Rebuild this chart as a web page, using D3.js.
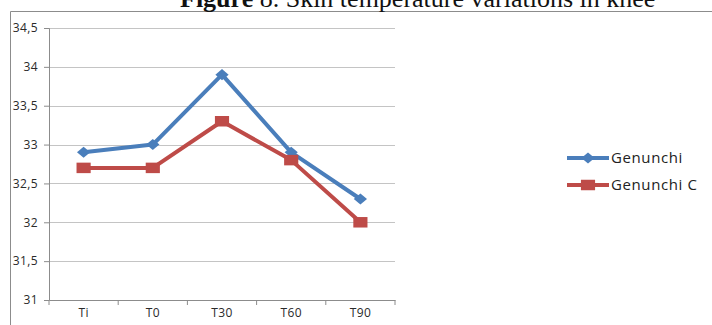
<!DOCTYPE html>
<html>
<head>
<meta charset="utf-8">
<script src="https://cdn.jsdelivr.net/npm/d3@7"></script>
<style>
  body { margin: 0; background: #fff; }
  svg { display: block; }
  .tick text { font-family: "Open Sans", sans-serif; font-size: 12px; fill: #2a2a2a; letter-spacing: 0.4px; }
</style>
</head>
<body>
<svg id="chart" width="712" height="325"></svg>
<script>
// DATA
const categories = ["Ti", "T0", "T30", "T60", "T90"];
const genunchi = [32.9, 33.0, 33.9, 32.9, 32.3];
const genunchiC = [32.7, 32.7, 33.3, 32.8, 32.0];
const yTicks = [31, 31.5, 32, 32.5, 33, 33.5, 34, 34.5];

// SETUP
const margin = { top: 28, left: 49 },
    width = 346,
    height = 272;

const svg = d3.select("#chart");

// chart frame
svg.append("path")
    .attr("d", "M10.5,325 V11.5 H712")
    .attr("fill", "none")
    .attr("stroke", "#8c8c8c")
    .attr("stroke-width", 1);

// title (cropped at the top, as in the source figure)
const title = svg.append("text")
    .attr("x", 180)
    .attr("y", 7)
    .attr("font-family", "Liberation Serif, serif")
    .attr("font-size", 26)
    .attr("fill", "#111");
title.append("tspan").attr("font-weight", "bold").text("Figure ");
title.append("tspan").text("8. Skin temperature variations in knee");

const g = svg.append("g")
    .attr("transform", `translate(${margin.left},${margin.top})`);

// SCALES
const x = d3.scaleBand()
    .domain(categories)
    .range([0, width]);

const y = d3.scaleLinear()
    .domain([31, 34.5])
    .range([height, 0]);

// gridlines
g.selectAll(".grid")
    .data(yTicks.filter(d => d > 31))
    .enter()
    .append("line")
    .attr("x1", 0)
    .attr("x2", width)
    .attr("y1", d => Math.round(y(d)) + 0.5)
    .attr("y2", d => Math.round(y(d)) + 0.5)
    .attr("stroke", "#c4c4c4");

// AXES
const yAxis = g.append("g")
    .call(d3.axisLeft(y)
        .tickValues(yTicks)
        .tickSize(5)
        .tickPadding(6)
        .tickFormat(d => String(d).replace(".", ",")));

const xAxis = g.append("g")
    .attr("transform", `translate(0,${height})`)
    .call(d3.axisBottom(x).tickSize(0).tickPadding(8));

// category boundary ticks
xAxis.selectAll(".bound")
    .data(categories.concat(["end"]))
    .enter()
    .append("line")
    .attr("x1", (d, i) => i * x.step())
    .attr("x2", (d, i) => i * x.step())
    .attr("y1", 0)
    .attr("y2", 5)
    .attr("stroke", "#8c8c8c");

[yAxis, xAxis].forEach(a => {
    a.selectAll(".domain").attr("stroke", "#8c8c8c");
    a.selectAll(".tick line").attr("stroke", "#8c8c8c");
});

// LINES
// markers are a bit wider than tall, like the source picture
const series = [
    { name: "Genunchi", values: genunchi, color: "#4a7ebb", size: 61, shape: "scale(1.2,1) rotate(45)" },
    { name: "Genunchi C", values: genunchiC, color: "#be4b48", size: 110, shape: "scale(1.35,1)" }
];

const line = d3.line()
    .x((d, i) => x(categories[i]) + x.bandwidth() / 2)
    .y(d => y(d));

series.forEach(s => {
    g.append("path")
        .datum(s.values)
        .attr("d", line)
        .attr("fill", "none")
        .attr("stroke", s.color)
        .attr("stroke-width", 4)
        .attr("stroke-linejoin", "round");

    g.selectAll(null)
        .data(s.values)
        .enter()
        .append("path")
        .attr("transform", (d, i) => `translate(${x(categories[i]) + x.bandwidth() / 2},${y(d)}) ${s.shape}`)
        .attr("d", d3.symbol().type(d3.symbolSquare).size(s.size))
        .attr("fill", s.color);
});

// LEGEND
const legend = svg.append("g")
    .attr("transform", "translate(567,158)");

series.forEach((s, i) => {
    const row = legend.append("g").attr("transform", `translate(0,${i * 27})`);
    row.append("line")
        .attr("x1", 0).attr("x2", 42)
        .attr("stroke", s.color)
        .attr("stroke-width", 4);
    row.append("path")
        .attr("transform", `translate(21,0) ${s.shape}`)
        .attr("d", d3.symbol().type(d3.symbolSquare).size(s.size))
        .attr("fill", s.color);
    row.append("text")
        .attr("x", 44)
        .attr("dy", "0.35em")
        .attr("font-family", "Open Sans, sans-serif")
        .attr("font-size", 15)
        .attr("letter-spacing", 0.6)
        .attr("fill", "#222")
        .text(s.name);
});
</script>
</body>
</html>
